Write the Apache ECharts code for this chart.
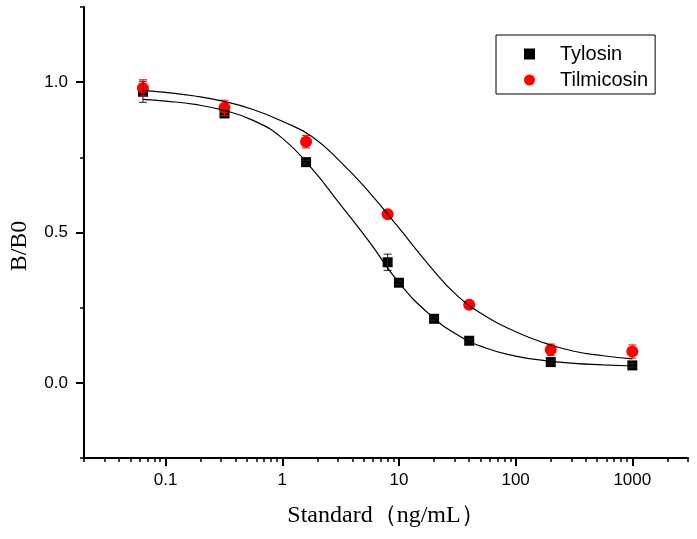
<!DOCTYPE html>
<html>
<head>
<meta charset="utf-8">
<script src="https://cdn.jsdelivr.net/npm/echarts@6/dist/echarts.min.js"></script>
<style>
html,body{margin:0;padding:0;background:#fff;}
#chart{width:697px;height:539px;}
</style>
</head>
<body>
<div id="chart"></div>
<script>
// ---- data ----
const tylosinX = [0.064, 0.32, 1.6, 8, 10, 20, 40, 200, 1000];
const tylosinY = [0.968, 0.896, 0.734, 0.401, 0.333, 0.213, 0.140, 0.069, 0.058];
const tylosinErr = [0.035, 0.010, 0.006, 0.027, 0.006, 0.005, 0.005, 0.006, 0.006];

const tilmicosinX = [0.064, 0.32, 1.6, 8, 40, 200, 1000];
const tilmicosinY = [0.981, 0.915, 0.802, 0.561, 0.260, 0.110, 0.104];
const tilmicosinErr = [0.027, 0.025, 0.021, 0.008, 0.010, 0.019, 0.022];

// fitted curves
const fitX = [0.064, 0.1, 0.178, 0.316, 0.562, 1, 1.78, 3.16, 5.62, 10, 17.8, 31.6, 56.2, 100, 178, 316, 562, 1000];
const tylosinFitY = [0.943, 0.937, 0.926, 0.906, 0.873, 0.814, 0.714, 0.592, 0.467, 0.333, 0.232, 0.160, 0.115, 0.089, 0.074, 0.065, 0.060, 0.056];
const tilmicosinFitY = [0.973, 0.966, 0.954, 0.936, 0.909, 0.870, 0.820, 0.735, 0.632, 0.515, 0.395, 0.290, 0.220, 0.170, 0.132, 0.105, 0.090, 0.080];

// axis ticks
const xTickValues = [0.1, 1, 10, 100, 1000];
const xTickLabels = ['0.1', '1', '10', '100', '1000'];
const xMinorTicks = [0.02,0.03,0.04,0.05,0.06,0.07,0.08,0.09,
                     0.2,0.3,0.4,0.5,0.6,0.7,0.8,0.9,
                     2,3,4,5,6,7,8,9,
                     20,30,40,50,60,70,80,90,
                     200,300,400,500,600,700,800,900,
                     2000,3000];
const xMin = 0.02, xMax = 3000;
const yTickValues = [0, 0.5, 1.0];
const yMinorTicks = [-0.25, 0.25, 0.75, 1.25];
const yMin = -0.25, yMax = 1.25;

// ---- chart ----
const lg = v => Math.log10(v);
const sans = 'Liberation Sans, Arial, sans-serif';
const serif = 'Liberation Serif, Times New Roman, serif';

function pts(xs, ys) { return xs.map((x, i) => [lg(x), ys[i]]); }
function errPts(xs, ys, es) { return xs.map((x, i) => [lg(x), ys[i], es[i]]); }

function errRender(color) {
  return function (params, api) {
    const x = api.value(0), y = api.value(1), e = api.value(2);
    const top = api.coord([x, y + e]);
    const bot = api.coord([x, y - e]);
    const hw = 4;
    const style = { stroke: color, lineWidth: 1, fill: null };
    return {
      type: 'group',
      children: [
        { type: 'line', shape: { x1: top[0], y1: top[1], x2: bot[0], y2: bot[1] }, style },
        { type: 'line', shape: { x1: top[0] - hw, y1: top[1], x2: top[0] + hw, y2: top[1] }, style },
        { type: 'line', shape: { x1: bot[0] - hw, y1: bot[1], x2: bot[0] + hw, y2: bot[1] }, style }
      ]
    };
  };
}

const axisLineStyle = { color: '#000', width: 2 };

const option = {
  animation: false,
  backgroundColor: '#fff',
  grid: { left: 83, top: 7, right: 9, bottom: 81, containLabel: false },
  legend: {
    left: 496, top: 35, orient: 'vertical',
    data: [{ name: 'Tylosin', icon: 'rect' }, { name: 'Tilmicosin', icon: 'circle' }],
    itemWidth: 11, itemHeight: 11, itemGap: 4,
    padding: [8, 7, 3, 28],
    borderColor: '#000', borderWidth: 1,
    selectedMode: false,
    textStyle: { fontSize: 20, fontFamily: sans, color: '#000', padding: [0, 0, 0, 20], lineHeight: 22 }
  },
  xAxis: [
    {
      type: 'value', position: 'bottom', min: lg(xMin), max: lg(xMax),
      axisLine: { show: true, onZero: false, lineStyle: axisLineStyle },
      axisTick: { show: true, customValues: xTickValues.map(lg), length: 8, lineStyle: { color: '#000', width: 2 } },
      axisLabel: {
        show: true, customValues: xTickValues.map(lg), margin: 14,
        fontSize: 17, fontFamily: sans, color: '#000',
        formatter: function (v) {
          const i = xTickValues.findIndex(t => Math.abs(lg(t) - v) < 1e-6);
          return i >= 0 ? xTickLabels[i] : '';
        }
      },
      splitLine: { show: false },
      name: 'Standard（ng/mL）', nameLocation: 'middle', nameGap: 46,
      nameTextStyle: { fontSize: 24, fontFamily: serif, color: '#000', padding: [0, 0, 0, 0] }
    },
    {
      type: 'value', position: 'bottom', offset: 0, min: lg(xMin), max: lg(xMax),
      axisLine: { show: false, onZero: false },
      axisTick: { show: true, customValues: xMinorTicks.map(lg), length: 4, lineStyle: { color: '#000', width: 1.5 } },
      axisLabel: { show: false },
      splitLine: { show: false }
    }
  ],
  yAxis: [
    {
      type: 'value', position: 'left', min: yMin, max: yMax,
      axisLine: { show: true, onZero: false, lineStyle: axisLineStyle },
      axisTick: { show: true, customValues: yTickValues, length: 8, lineStyle: { color: '#000', width: 2 } },
      axisLabel: {
        show: true, customValues: yTickValues, margin: 16,
        fontSize: 17, fontFamily: sans, color: '#000',
        formatter: v => Number(v).toFixed(1)
      },
      splitLine: { show: false },
      name: 'B/B0', nameLocation: 'middle', nameGap: 52, nameRotate: 90,
      nameTextStyle: { fontSize: 24, fontFamily: serif, color: '#000', padding: [0, 27, 0, 0] }
    },
    {
      type: 'value', position: 'left', offset: 0, min: yMin, max: yMax,
      axisLine: { show: false, onZero: false },
      axisTick: { show: true, customValues: yMinorTicks, length: 4, lineStyle: { color: '#000', width: 1.5 } },
      axisLabel: { show: false },
      splitLine: { show: false }
    }
  ],
  series: [
    {
      name: 'Tylosin', type: 'scatter', symbol: 'rect', symbolSize: 10,
      itemStyle: { color: '#000', opacity: 1 }, z: 2,
      data: pts(tylosinX, tylosinY)
    },
    {
      name: 'Tilmicosin', type: 'scatter', symbol: 'circle', symbolSize: 12,
      itemStyle: { color: '#ff0000', opacity: 1 }, z: 3,
      data: pts(tilmicosinX, tilmicosinY)
    },
    {
      name: 'Tylosin err', type: 'custom', renderItem: errRender('#222'),
      encode: { x: 0, y: 1 }, z: 4, silent: true,
      data: errPts(tylosinX, tylosinY, tylosinErr)
    },
    {
      name: 'Tilmicosin err', type: 'custom', renderItem: errRender('#ff0000'),
      encode: { x: 0, y: 1 }, z: 4, silent: true,
      data: errPts(tilmicosinX, tilmicosinY, tilmicosinErr)
    },
    {
      name: 'Tylosin fit', type: 'line', showSymbol: false, symbol: 'none',
      smooth: 0.5,
      lineStyle: { color: '#000', width: 1.2 }, z: 5, silent: true,
      data: pts(fitX, tylosinFitY)
    },
    {
      name: 'Tilmicosin fit', type: 'line', showSymbol: false, symbol: 'none',
      smooth: 0.5,
      lineStyle: { color: '#000', width: 1.2 }, z: 5, silent: true,
      data: pts(fitX, tilmicosinFitY)
    }
  ]
};

const chart = echarts.init(document.getElementById('chart'), null, { renderer: 'canvas' });
chart.setOption(option);
</script>
</body>
</html>
